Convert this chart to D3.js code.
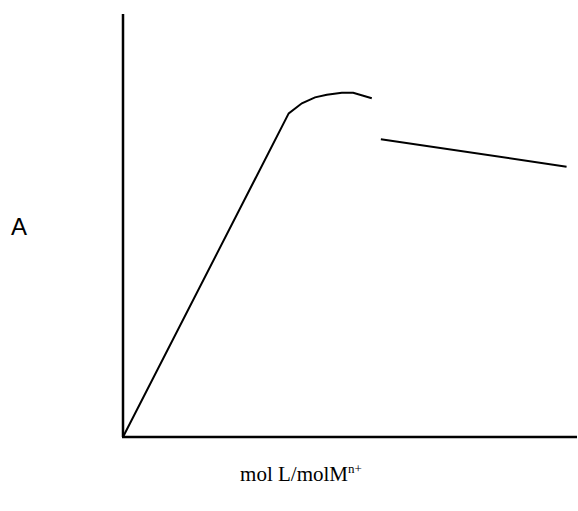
<!DOCTYPE html>
<html>
<head>
<meta charset="utf-8">
<script src="https://cdn.jsdelivr.net/npm/d3@7"></script>
<style>
body { margin: 0; background: #fff; }
</style>
</head>
<body>
<div id="chart"></div>
<script>
var width = 578;
var height = 511;

// rising part of the curve, up to the peak (arbitrary units 0..100)
var riseX = [0, 36.5, 39.4, 42.3, 44.9, 48.2, 50.7, 54.8];
var riseY = [0, 76.5, 78.9, 80.3, 80.9, 81.4, 81.4, 80.1];

// second, falling segment
var fallX = [56.8, 97.7];
var fallY = [70.4, 63.9];

var yLabel = "A";
var xLabel = "mol L/molM";
var xLabelSup = "n+";

var svg = d3.select("#chart").append("svg")
    .attr("width", width)
    .attr("height", height);

var x = d3.scaleLinear().domain([0, 100]).range([123, 577]);
var y = d3.scaleLinear().domain([0, 100]).range([437, 14]);

var line = d3.line()
    .x(function (d) { return x(d[0]); })
    .y(function (d) { return y(d[1]); });

// axes, no ticks
svg.append("line")
    .attr("x1", x(0)).attr("y1", y(0))
    .attr("x2", x(0)).attr("y2", y(100))
    .attr("stroke", "#000").attr("stroke-width", 2.5);

svg.append("line")
    .attr("x1", x(0) - 1).attr("y1", y(0))
    .attr("x2", x(100)).attr("y2", y(0))
    .attr("stroke", "#000").attr("stroke-width", 2.5);

svg.append("path")
    .datum(d3.zip(riseX, riseY))
    .attr("d", line)
    .attr("fill", "none")
    .attr("stroke", "#000")
    .attr("stroke-width", 2);

svg.append("path")
    .datum(d3.zip(fallX, fallY))
    .attr("d", line)
    .attr("fill", "none")
    .attr("stroke", "#000")
    .attr("stroke-width", 2);

svg.append("text")
    .attr("x", 19)
    .attr("y", 235)
    .attr("text-anchor", "middle")
    .style("font-family", "'Liberation Sans', Arial, sans-serif")
    .style("font-size", "24px")
    .text(yLabel);

var xl = svg.append("text")
    .attr("x", 301)
    .attr("y", 481)
    .attr("text-anchor", "middle")
    .style("font-family", "'Liberation Serif', serif")
    .style("font-size", "21px");
xl.append("tspan").text(xLabel);
xl.append("tspan")
    .attr("dy", -8)
    .style("font-size", "13px")
    .text(xLabelSup);
</script>
</body>
</html>
